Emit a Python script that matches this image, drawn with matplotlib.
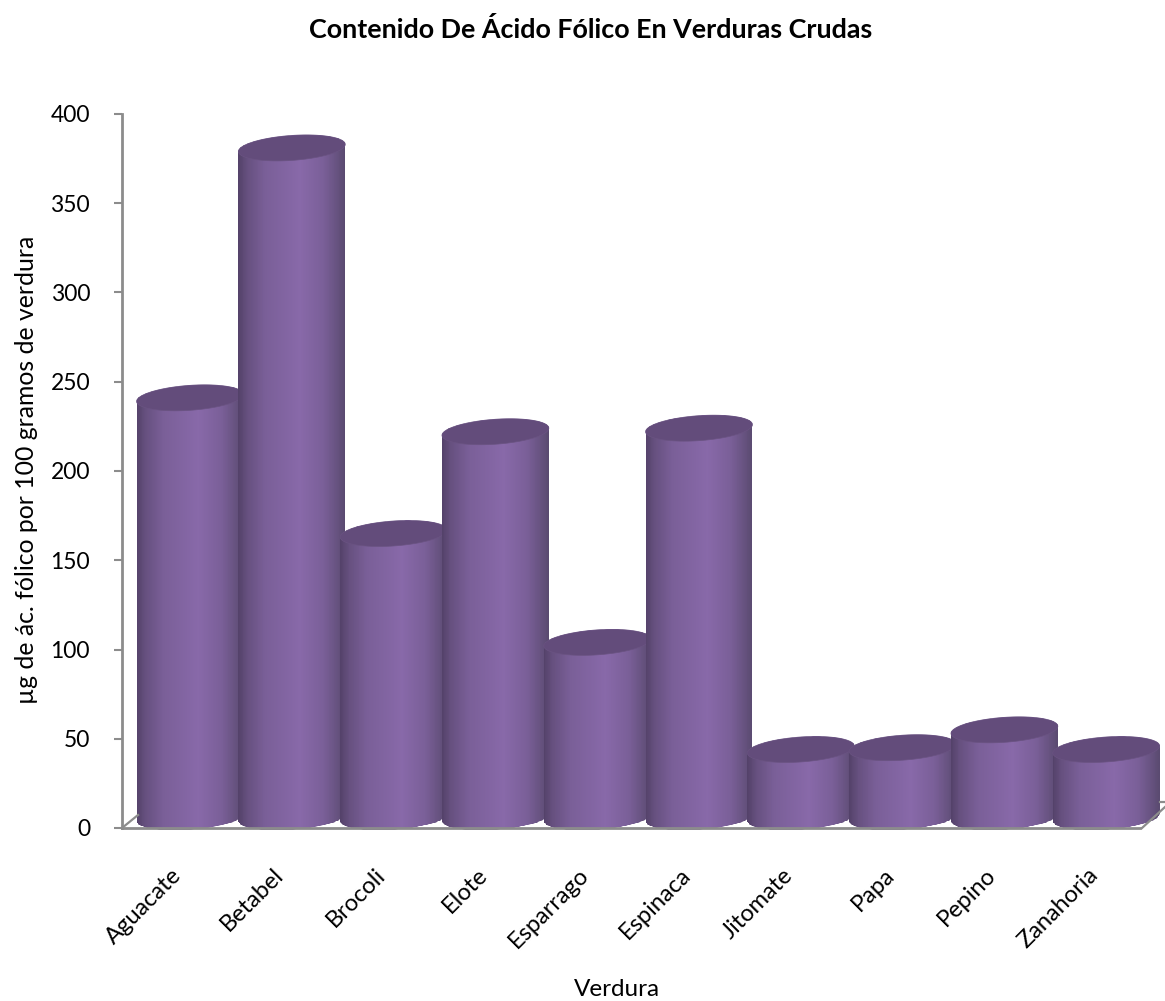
import numpy as np
import matplotlib
matplotlib.use("Agg")
import matplotlib.pyplot as plt
from matplotlib.colors import LinearSegmentedColormap
from matplotlib.path import Path
from matplotlib.patches import PathPatch
from matplotlib.transforms import ScaledTranslation

categories = ["Aguacate", "Betabel", "Brocoli", "Elote", "Esparrago",
              "Espinaca", "Jitomate", "Papa", "Pepino", "Zanahoria"]
values = [235, 375, 159, 216, 98, 218, 38, 39, 49, 38]
yticks = [0, 50, 100, 150, 200, 250, 300, 350, 400]
title = "Contenido De Ácido Fólico En Verduras Crudas"
xlabel = "Verdura"
ylabel = "µg de ác. fólico por 100 gramos de verdura"

plt.rcParams["font.family"] = ["Lato", "DejaVu Sans"]
W, H = 1165, 1001
fig = plt.figure(figsize=(W / 100, H / 100), dpi=100, facecolor="white")
ax = fig.add_axes([122 / W, 1 - 828 / H, (1140 - 122) / W, 714 / H])
ax.set_xlim(-0.668, 9.332)
ax.set_ylim(0, 400)

GRAY = "#8c8c8c"
base = 6.0       # depth offset of the cylinders' base above the front axis
hw = 0.525       # half width, category units
ry = 7.0         # ellipse half height, value units
tilt = 2.0       # ellipse tilt, value units

cmap = LinearSegmentedColormap.from_list("cyl", [
    (0.0, "#54426a"), (0.08, "#66507f"), (0.25, "#7a5f98"), (0.58, "#8869a9"),
    (0.8, "#7a5f98"), (0.93, "#66527f"), (1.0, "#5a4a70")])
t = np.linspace(0, 2 * np.pi, 121)

for i, v in enumerate(values):
    top = base + v
    ts = np.linspace(np.pi, 0, 60)      # upper half, left to right
    upper_x = i + hw * np.cos(ts)
    upper_y = top + tilt * np.cos(ts) + ry * np.sin(ts)
    tb = np.linspace(0, -np.pi, 60)     # lower half, right to left
    lower_x = i + hw * np.cos(tb)
    lower_y = base + tilt * np.cos(tb) + ry * np.sin(tb)
    outline = np.r_[np.c_[upper_x, upper_y], np.c_[lower_x, lower_y], [[upper_x[0], upper_y[0]]]]
    body = Path(outline)
    edges = np.linspace(i - hw, i + hw, 129)
    shade = np.linspace(0, 1, 128).reshape(1, -1)
    mesh = ax.pcolormesh(edges, [-10, top + 15], shade, cmap=cmap, vmin=0, vmax=1,
                         shading="flat", zorder=2 + i * 0.1, antialiased=False)
    mesh.set_clip_path(PathPatch(body, transform=ax.transData))
    mesh.set_clip_box(None)
    ex = i + hw * np.cos(t)
    ey = top + tilt * np.cos(t) + ry * np.sin(t)
    cap = PathPatch(Path(np.c_[ex, ey]), facecolor="#634c7b", edgecolor="#6a5382",
                    lw=0.5, zorder=2.05 + i * 0.1, clip_on=False)
    ax.add_patch(cap)
ax.set_xlim(-0.668, 9.332)
ax.set_ylim(0, 400)

for s in ("top", "right"):
    ax.spines[s].set_visible(False)
for s in ("left", "bottom"):
    ax.spines[s].set_color(GRAY)
    ax.spines[s].set_linewidth(2)
    ax.spines[s].set_zorder(10)

ax.set_yticks(yticks)
ax.tick_params(axis="y", length=6, width=1.5, color=GRAY, labelsize=16.5, pad=17, labelcolor="black")
ax.set_xticks(range(len(categories)))
ax.set_xticklabels(categories, rotation=45, ha="right", rotation_mode="anchor", fontsize=17)
ax.tick_params(axis="x", length=0, pad=26)
off = ScaledTranslation(-19 / 100, 0, fig.dpi_scale_trans)
for lab in ax.get_xticklabels():
    lab.set_transform(lab.get_transform() + off)

# 3D floor edges, in pixel-derived figure fractions
def fx(px): return px / W
def fy(py): return 1 - py / H
for xs, ys in [((122, 138), (828, 815)), ((1142, 1165), (828, 807)), ((1160, 1165), (802, 802))]:
    fig.add_artist(plt.Line2D([fx(a) for a in xs], [fy(b) for b in ys], color=GRAY, lw=1.6, zorder=1))

fig.text(fx(591), fy(30), title, ha="center", va="center", fontsize=19.4, fontweight="bold")
fig.text(fx(617), fy(990), xlabel, ha="center", va="center", fontsize=17.5)
fig.text(fx(27), fy(470), ylabel, ha="center", va="center", rotation=90, fontsize=17.8)

fig.savefig("out.png", dpi=100)
